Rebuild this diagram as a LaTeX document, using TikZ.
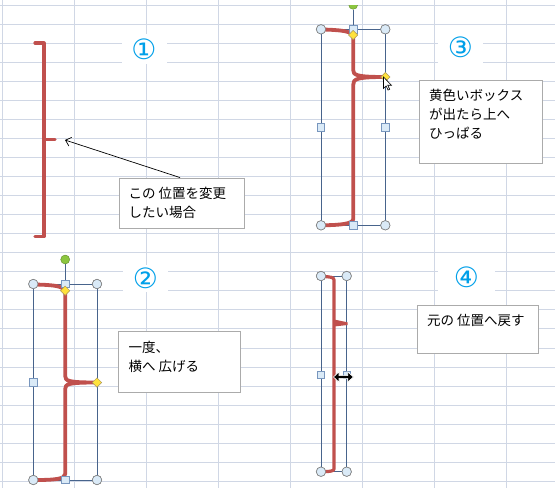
\documentclass[tikz,border=0pt]{standalone}
\usepackage{fontspec}
\newfontfamily\jpfont{Noto Sans CJK JP}
\newfontfamily\numfont{DejaVu Sans}
\usepackage{tikz}
\usetikzlibrary{arrows.meta, shapes.geometric, positioning}

\definecolor{gridcol}{RGB}{208,215,229}
\definecolor{bracered}{RGB}{192,80,77}
\definecolor{selcol}{RGB}{72,100,140}
\definecolor{numblue}{RGB}{0,160,233}
\definecolor{boxgrey}{RGB}{171,171,171}
\definecolor{handlefill}{RGB}{218,234,247}
\definecolor{handlegrey}{RGB}{128,128,128}
\definecolor{squareedge}{RGB}{120,150,190}
\definecolor{adjyellow}{RGB}{255,226,60}
\definecolor{adjedge}{RGB}{170,150,90}
\definecolor{rotgreen}{RGB}{140,198,63}

\tikzset{
  gridline/.style={draw=gridcol, line width=0.8pt},
  brace/.style={draw=bracered, line width=3.2pt, line join=round, line cap=round},
  selline/.style={draw=selcol, line width=0.8pt},
  cornerh/.style={circle, fill=handlefill, draw=handlegrey, line width=0.6pt, minimum size=9.4pt, inner sep=0pt},
  sideh/.style={rectangle, fill=handlefill, draw=squareedge, line width=0.8pt, minimum size=7.5pt, inner sep=0pt},
  adjh/.style={diamond, fill=adjyellow, draw=adjedge, line width=0.5pt, minimum width=9.5pt, minimum height=9.5pt, inner sep=0pt},
  roth/.style={circle, fill=rotgreen, draw=rotgreen!70!black, line width=0.4pt, minimum size=9pt, inner sep=0pt},
  numlabel/.style={fill=white, text=numblue, inner sep=0pt, font={\numfont\fontsize{28}{28}\selectfont}},
  notebox/.style={draw=boxgrey, fill=white, line width=0.9pt, inner sep=0pt},
  % base anchor of a multi-line node is the baseline of its last line
  notetext/.style={anchor=base west, inner sep=0pt, align=left, font={\jpfont\fontsize{13.5}{19}\selectfont}}
}

\begin{document}
\begin{tikzpicture}[x=1pt, y=-1pt]
\useasboundingbox (0,0) rectangle (555,488);
\fill[white] (0,0) rectangle (555,488);

% grid of the sheet
\foreach \gx in {0,...,7}
  \draw[gridline] ({2.7+72*\gx},0) -- ({2.7+72*\gx},488);
\foreach \gy in {0,...,25}
  \draw[gridline] (0,{5+19.05*\gy}) -- (555,{5+19.05*\gy});

% step numbers
\node[numlabel, minimum width=45pt, minimum height=30pt] (num1) at (144,49) {①};
\node[numlabel, minimum width=45pt, minimum height=31pt] (num3) at (460.5,47.5) {③};
\node[numlabel, minimum width=45pt, minimum height=27pt] (num2) at (145.5,278) {②};
\node[numlabel, minimum width=57pt, minimum height=37pt] (num4) at (466.5,277.5) {④};

% 1: brace as it is
\draw[brace] (35,43) -- (44,43) -- (44,236.7) -- (35,236.7);
\draw[brace] (44,139.5) -- (55,139.5);
\coordinate (tip1) at (65,140);

\node[notebox, minimum width=125pt, minimum height=50pt] (note1) at (181.5,203) {};
\node[notetext] (text1) at (128.3,217.7) {この 位置を変更\\したい場合};
\draw[-{Straight Barb[length=5pt,width=9pt]}, line width=0.7pt] ([xshift=-1.5pt]note1.north) -- (tip1);

% 2: widen the brace
\node[cornerh] (tl2) at (33.3,284) {};
\node[cornerh] (tr2) at (97,284) {};
\node[cornerh] (bl2) at (33.3,480) {};
\node[cornerh] (br2) at (97,480) {};
\draw[selline] (tl2.center) rectangle (br2.center);
\node[roth] (rot2) at (65.2,259.5) {};
\draw[selline] (rot2) -- (65.2,284);
\draw[brace, line width=3.8pt] (35,284.5) .. controls (55,285) and (64,286) .. (65.2,292)
  -- (65.2,376) .. controls (65.2,381) and (68,382.5) .. (97,382.5)
  .. controls (68,382.5) and (65.2,384) .. (65.2,389)
  -- (65.2,474) .. controls (65.2,479) and (55,480) .. (35,480);
\node[cornerh] at (tl2) {};
\node[cornerh] at (tr2) {};
\node[cornerh] at (bl2) {};
\node[cornerh] at (br2) {};
\node[sideh] (tm2) at (65.2,284) {};
\node[sideh] (lm2) at (33.3,382.5) {};
\node[sideh] (bm2) at (65.2,480) {};
\node[adjh] (adjtop2) at (65.2,290.7) {};
\node[adjh] (adjmid2) at (97,382.5) {};

\node[notebox, minimum width=122pt, minimum height=61pt] (note2) at (179.5,362) {};
\node[notetext] (text2) at (128.3,371) {一度、\\横へ 広げる};

% 3: pull the yellow box up
\node[cornerh] (tl3) at (321,29.3) {};
\node[cornerh] (tr3) at (385.3,29.3) {};
\node[cornerh] (bl3) at (321,225.3) {};
\node[cornerh] (br3) at (385.3,225.3) {};
\draw[selline] (tl3.center) rectangle (br3.center);
\begin{scope}
  \clip (0,5.3) rectangle (555,488);
  \node[roth] (rot3) at (353.2,4.8) {};
\end{scope}
\draw[selline] (rot3) -- (353.2,29.3);
\draw[brace, line width=3.8pt] (323,29.5) .. controls (340,30) and (352,31) .. (353.2,36)
  -- (353.2,70) .. controls (353.2,75) and (356,77) .. (385.3,77)
  .. controls (356,77) and (353.2,79) .. (353.2,85)
  -- (353.2,219) .. controls (353.2,224) and (340,225) .. (323,225.3);
\node[cornerh] at (tl3) {};
\node[cornerh] at (tr3) {};
\node[cornerh] at (bl3) {};
\node[cornerh] at (br3) {};
\node[sideh] (tm3) at (353.2,29.3) {};
\node[sideh] (lm3) at (321,127.3) {};
\node[sideh] (rm3) at (385.3,127.3) {};
\node[sideh] (bm3) at (353.2,225.3) {};
\node[adjh] (adjtop3) at (353.2,35) {};
\node[adjh] (adjmid3) at (385.3,77) {};
% mouse pointer
\draw[fill=white, draw=black, line width=0.6pt, line join=miter]
  (383.5,77) -- ++(0,11.5) -- ++(2.6,-2.6) -- ++(2,4.2) -- ++(1.6,-0.8)
  -- ++(-2,-4.1) -- ++(3.7,0) -- cycle;

\node[notebox, minimum width=123pt, minimum height=83pt] (note3) at (480.5,121.5) {};
\node[notetext] (text3) at (429,138.8) {黄色いボックス\\が出たら上へ\\ひっぱる};

% 4: back to the old place
\node[cornerh] (tl4) at (321,276) {};
\node[cornerh] (tr4) at (346.7,276) {};
\node[cornerh] (bl4) at (321,471.7) {};
\node[cornerh] (br4) at (346.7,471.7) {};
\draw[selline] (tl4.center) rectangle (br4.center);
\draw[brace] (324,276.5) .. controls (330,277) and (334,277) .. (334,280)
  -- (334,469) .. controls (334,471) and (330,471.5) .. (324,471.7);
\fill[bracered] (334,319.5) -- (347.5,322.3) -- (347.5,325) -- (334,326.5) -- cycle;
\node[cornerh] at (tl4) {};
\node[cornerh] at (tr4) {};
\node[cornerh] at (bl4) {};
\node[cornerh] at (br4) {};
\node[sideh] (lm4) at (321,375) {};
\node[sideh] (rm4) at (346.7,375) {};
% resize pointer
\draw[fill=black, draw=white, line width=0.6pt, line join=miter]
  (333.5,377) -- (339,371.8) -- (339,375.6) -- (347.8,375.6) -- (347.8,371.8)
  -- (353.3,377) -- (347.8,382.2) -- (347.8,378.4) -- (339,378.4) -- (339,382.2) -- cycle;

\node[notebox, minimum width=121pt, minimum height=48pt] (note4) at (477.5,329) {};
\node[notetext] (text4) at (427,325.5) {元の 位置へ戻す};
\end{tikzpicture}
\end{document}
